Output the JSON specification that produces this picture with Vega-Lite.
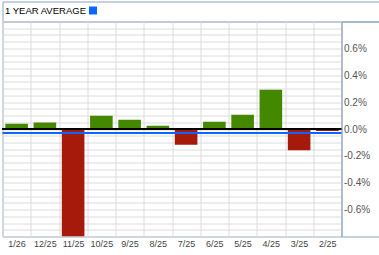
{
  "$schema": "https://vega.github.io/schema/vega-lite/v6.json",
  "padding": {"left": 0.5, "top": 0.5, "right": 0, "bottom": 0},
  "config": {
    "view": {"stroke": "#8da2bf", "strokeWidth": 1},
    "font": "Liberation Sans",
    "concat": {"spacing": 0}
  },
  "spacing": 0,
  "bounds": "flush",
  "vconcat": [
    {
      "width": 378,
      "height": 20,
      "view": {"stroke": "#8da2bf", "strokeWidth": 1},
      "data": {"values": [{"series": "1 YEAR AVERAGE"}]},
      "mark": {"type": "square", "opacity": 0},
      "encoding": {
        "color": {
          "field": "series",
          "type": "nominal",
          "scale": {"range": ["#0a66ff"]},
          "legend": {
            "title": "1 YEAR AVERAGE",
            "titleOrient": "left",
            "orient": "none",
            "legendX": 2.5,
            "legendY": 4,
            "padding": 0,
            "labelExpr": "''",
            "symbolType": "square",
            "symbolSize": 64,
            "symbolOpacity": 1,
            "symbolStrokeWidth": 0,
            "symbolFillColor": "#0a66ff",
            "titleFontSize": 9.5,
            "titleFontWeight": "normal",
            "titleColor": "#000000",
            "titlePadding": 1,
            "titleBaseline": "middle"
          }
        }
      }
    },
    {
      "spacing": 0,
      "bounds": "flush",
      "hconcat": [
        {
          "width": 339,
          "height": 215,
          "view": {"stroke": "#8da2bf", "strokeWidth": 1},
          "data": {
            "values": [
              {"month": "1/26", "value": 0.039},
              {"month": "12/25", "value": 0.049},
              {"month": "11/25", "value": -0.8},
              {"month": "10/25", "value": 0.099},
              {"month": "9/25", "value": 0.069},
              {"month": "8/25", "value": 0.025},
              {"month": "7/25", "value": -0.117},
              {"month": "6/25", "value": 0.054},
              {"month": "5/25", "value": 0.106},
              {"month": "4/25", "value": 0.292},
              {"month": "3/25", "value": -0.159},
              {"month": "2/25", "value": -0.014}
            ]
          },
          "resolve": {"axis": {"y": "independent"}},
          "layer": [
            {
              "mark": {"type": "bar", "width": {"band": 0.8}, "clip": true},
              "encoding": {
                "x": {
                  "field": "month",
                  "type": "nominal",
                  "sort": null,
                  "scale": {"paddingInner": 0, "paddingOuter": 0},
                  "axis": {
                    "title": null,
                    "labelAngle": 0,
                    "ticks": false,
                    "domain": false,
                    "grid": true,
                    "tickBand": "extent",
                    "gridColor": "#dcdcdc",
                    "labelPadding": 3,
                    "labelFontSize": 9,
                    "labelColor": "#444444"
                  }
                },
                "y": {
                  "field": "value",
                  "type": "quantitative",
                  "scale": {"domain": [-0.8, 0.8], "nice": false},
                  "axis": {
                    "orient": "right",
                    "title": null,
                    "values": [-0.8, -0.75, -0.7, -0.65, -0.6, -0.55, -0.5, -0.45, -0.4, -0.35, -0.3, -0.25, -0.2, -0.15, -0.1, -0.05, 0, 0.05, 0.1, 0.15, 0.2, 0.25, 0.3, 0.35, 0.4, 0.45, 0.5, 0.55, 0.6, 0.65, 0.7, 0.75, 0.8],
                    "grid": true,
                    "gridColor": "#dcdcdc",
                    "ticks": false,
                    "domain": false,
                    "labelPadding": 2,
                    "labelFontSize": 10,
                    "labelColor": "#555555",
                    "labelOverlap": false,
                    "labelExpr": "(round(datum.value*20) % 4 == 0 && abs(datum.value) < 0.7) ? (datum.value < 0 ? '-' : '') + format(abs(datum.value), '.1f') + '%' : ''"
                  }
                },
                "color": {
                  "condition": {"test": "datum.value < 0", "value": "#a61a0b"},
                  "value": "#448800"
                }
              }
            },
            {
              "mark": {"type": "rule", "color": "#000000", "strokeWidth": 1},
              "encoding": {"y": {"datum": 0, "type": "quantitative", "axis": null}}
            },
            {
              "mark": {"type": "rule", "color": "#0a66ff", "strokeWidth": 2},
              "encoding": {"y": {"aggregate": "mean", "field": "value", "type": "quantitative", "axis": null}}
            }
          ]
        },
        {
          "width": 39,
          "height": 215,
          "view": {"stroke": "#8da2bf", "strokeWidth": 1},
          "data": {"values": [{"k": 1}]},
          "mark": {"type": "point", "opacity": 0}
        }
      ]
    }
  ]
}
